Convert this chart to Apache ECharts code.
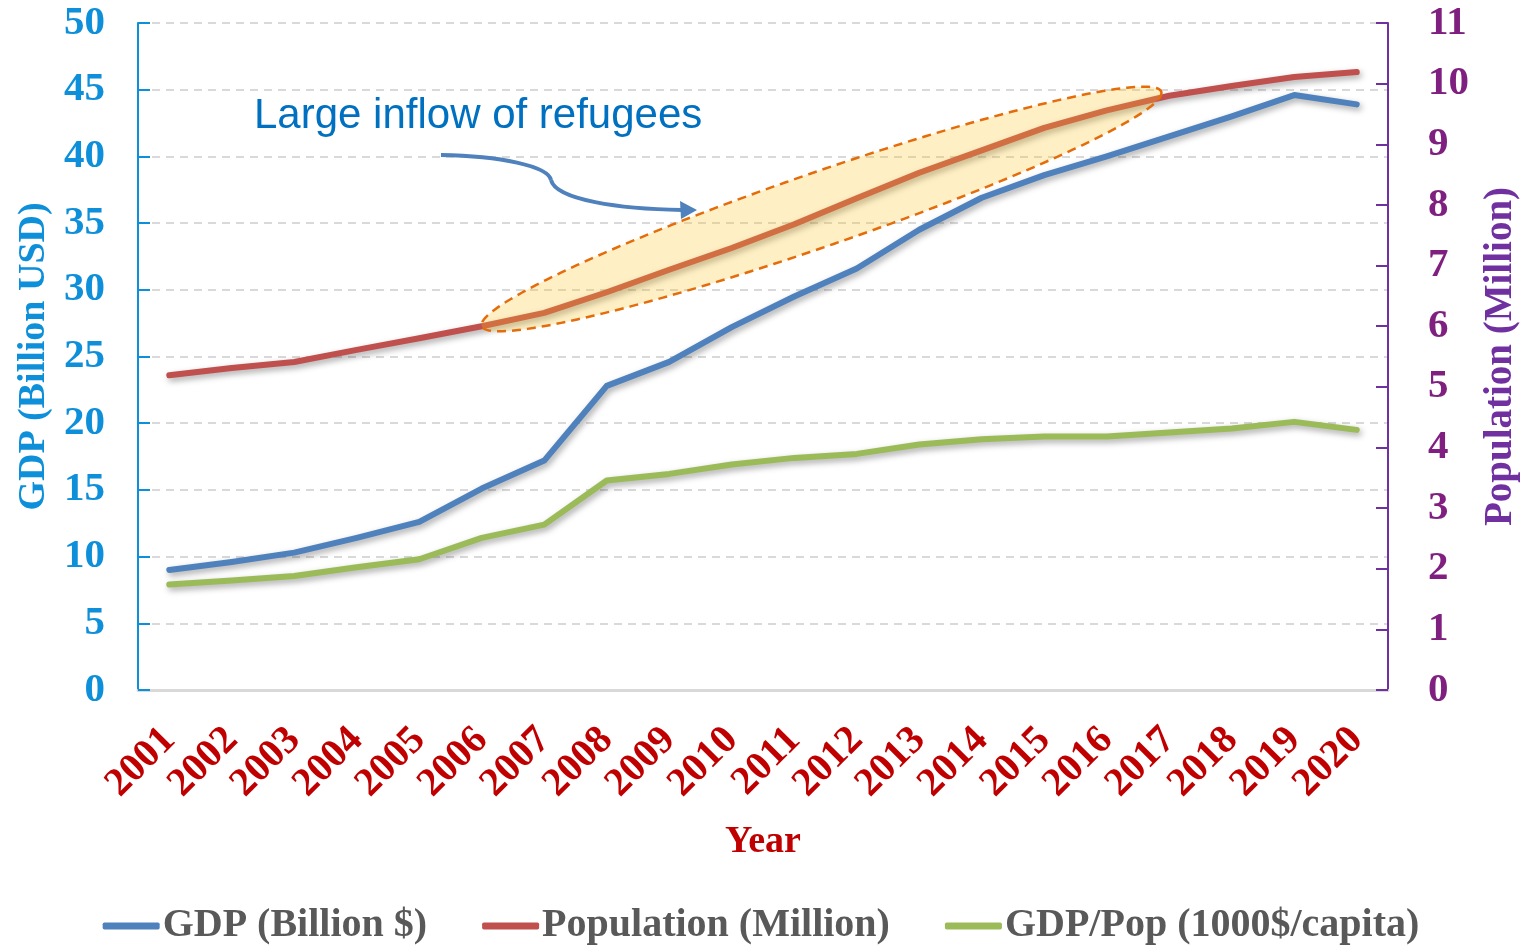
<!DOCTYPE html>
<html>
<head>
<meta charset="utf-8">
<script src="https://cdn.jsdelivr.net/npm/echarts@6/dist/echarts.min.js"></script>
<style>
  html, body { margin: 0; padding: 0; background: #fff; }
  #chart { width: 1522px; height: 945px; }
</style>
</head>
<body>
<div id="chart"></div>
<script>
// Years on the category axis
const years = ['2001','2002','2003','2004','2005','2006','2007','2008','2009','2010',
               '2011','2012','2013','2014','2015','2016','2017','2018','2019','2020'];

// GDP, billion USD (left axis)
const gdp = [9.0, 9.6, 10.3, 11.4, 12.6, 15.1, 17.2, 22.8, 24.6, 27.2,
             29.5, 31.6, 34.5, 36.9, 38.6, 40.0, 41.5, 43.0, 44.6, 43.9];

// Population, million (right axis)
const population = [5.19, 5.31, 5.41, 5.61, 5.80, 6.00, 6.22, 6.56, 6.93, 7.29,
                    7.68, 8.11, 8.53, 8.90, 9.27, 9.56, 9.80, 9.96, 10.11, 10.19];

// GDP per capita, 1000 $ (left axis)
const gdpPerCapita = [7.9, 8.2, 8.55, 9.2, 9.8, 11.4, 12.4, 15.7, 16.2, 16.9,
                      17.4, 17.7, 18.4, 18.8, 19.0, 19.0, 19.3, 19.6, 20.1, 19.5];

// Highlighted period (first and last year of the refugee inflow)
const inflowStart = '2006';
const inflowEnd = '2017';
const annotationText = 'Large inflow of refugees';

const serif = '"Liberation Serif", "DejaVu Serif", serif';
const shadow = { shadowColor: 'rgba(0,0,0,0.35)', shadowBlur: 6, shadowOffsetX: 2, shadowOffsetY: 3 };

const chart = echarts.init(document.getElementById('chart'));

function lineSeries(name, data, color, axis) {
  return {
    name: name,
    type: 'line',
    yAxisIndex: axis,
    data: data,
    symbol: 'none',
    smooth: false,
    lineStyle: Object.assign({ color: color, width: 6, cap: 'round', join: 'round' }, shadow),
    itemStyle: { color: color },
    z: 3
  };
}

chart.setOption({
  animation: false,
  backgroundColor: '#ffffff',
  grid: { left: 138, right: 134, top: 23, bottom: 255, containLabel: false, outerBoundsMode: 'none' },
  legend: {
    top: 901,
    left: 'center',
    icon: 'roundRect',
    itemWidth: 57,
    itemHeight: 7,
    itemGap: 55,
    textStyle: { fontFamily: serif, fontWeight: 'bold', fontSize: 40, color: '#595959', padding: [0, 0, 0, -2] },
    data: ['GDP (Billion $)', 'Population (Million)', 'GDP/Pop (1000$/capita)']
  },
  xAxis: {
    type: 'category',
    data: years,
    boundaryGap: true,
    axisLine: { lineStyle: { color: '#d9d9d9', width: 3 } },
    axisTick: { show: false },
    axisLabel: {
      rotate: 45, margin: 44, interval: 0,
      fontFamily: serif, fontWeight: 'bold', fontSize: 40, color: '#C00000'
    },
    name: 'Year',
    nameLocation: 'middle',
    nameGap: 133,
    nameTextStyle: { fontFamily: serif, fontWeight: 'bold', fontSize: 38, color: '#C00000' }
  },
  yAxis: [
    {
      type: 'value', min: 0, max: 50, interval: 5, position: 'left',
      axisLine: { show: true, lineStyle: { color: '#0E8FD9', width: 2 } },
      axisTick: { show: true, inside: true, length: 12, lineStyle: { color: '#0E8FD9', width: 2 } },
      axisLabel: { margin: 33, fontFamily: serif, fontWeight: 'bold', fontSize: 41, color: '#0E8FD9' },
      splitLine: { show: true, lineStyle: { color: '#d9d9d9', type: [8, 6], width: 2 } },
      name: 'GDP (Billion USD)',
      nameLocation: 'middle',
      nameRotate: 90,
      nameGap: 85,
      nameTextStyle: { fontFamily: serif, fontWeight: 'bold', fontSize: 38, color: '#0E8FD9' }
    },
    {
      type: 'value', min: 0, max: 11, interval: 1, position: 'right',
      axisLine: { show: true, lineStyle: { color: '#7030A0', width: 2 } },
      axisTick: { show: true, inside: true, length: 12, lineStyle: { color: '#7030A0', width: 2 } },
      axisLabel: { margin: 40, fontFamily: serif, fontWeight: 'bold', fontSize: 41, color: '#7F1F7F' },
      splitLine: { show: false },
      name: 'Population (Million)',
      nameLocation: 'middle',
      nameRotate: 90,
      nameGap: 93,
      nameTextStyle: { fontFamily: serif, fontWeight: 'bold', fontSize: 39, color: '#7030A0' }
    }
  ],
  series: [
    lineSeries('GDP (Billion $)', gdp, '#4F81BD', 0),
    lineSeries('Population (Million)', population, '#C0504D', 1),
    lineSeries('GDP/Pop (1000$/capita)', gdpPerCapita, '#9BBB59', 0)
  ]
});

// Highlight ellipse stretched between the population points of the inflow years
function drawAnnotations() {
  const i0 = years.indexOf(inflowStart), i1 = years.indexOf(inflowEnd);
  const p0 = chart.convertToPixel({ xAxisIndex: 0, yAxisIndex: 1 }, [i0, population[i0]]);
  const p1 = chart.convertToPixel({ xAxisIndex: 0, yAxisIndex: 1 }, [i1, population[i1]]);
  p1[0] -= 8; p1[1] -= 4;
  const cx = (p0[0] + p1[0]) / 2, cy = (p0[1] + p1[1]) / 2;
  const a = Math.hypot(p1[0] - p0[0], p1[1] - p0[1]) / 2;
  const b = 37;
  const ang = Math.atan2(p1[1] - p0[1], p1[0] - p0[0]);
  const pts = [];
  for (let k = 0; k < 180; k++) {
    const t = (k / 180) * Math.PI * 2;
    const ex = a * Math.cos(t), ey = b * Math.sin(t);
    pts.push([cx + ex * Math.cos(ang) - ey * Math.sin(ang), cy + ex * Math.sin(ang) + ey * Math.cos(ang)]);
  }

  // Curved arrow pointing at the highlighted region
  const arrowTip = [697, 210];
  chart.setOption({
    graphic: [
      {
        type: 'polygon', z: 10,
        shape: { points: pts },
        style: { fill: 'rgba(255,196,40,0.27)', stroke: '#E46C0A', lineWidth: 2.5, lineDash: [9, 6] }
      },
      {
        type: 'text', z: 10, left: 254, top: 95,
        style: { text: annotationText, fontFamily: '"Liberation Sans", Arial, sans-serif', fontSize: 42, fill: '#0070C0' }
      },
      {
        type: 'bezierCurve', z: 10,
        shape: { x1: 441, y1: 155, x2: 551, y2: 180, cpx1: 500, cpy1: 156, cpx2: 548, cpy2: 166 },
        style: { stroke: '#4F81BD', lineWidth: 4, fill: null }
      },
      {
        type: 'bezierCurve', z: 10,
        shape: { x1: 551, y1: 180, x2: 682, y2: 210, cpx1: 556, cpy1: 200, cpx2: 620, cpy2: 209 },
        style: { stroke: '#4F81BD', lineWidth: 4, fill: null }
      },
      {
        type: 'polygon', z: 10,
        shape: { points: [[arrowTip[0], arrowTip[1]], [680, 201], [681, 219]] },
        style: { fill: '#4F81BD' }
      }
    ]
  });
}
drawAnnotations();
</script>
</body>
</html>
